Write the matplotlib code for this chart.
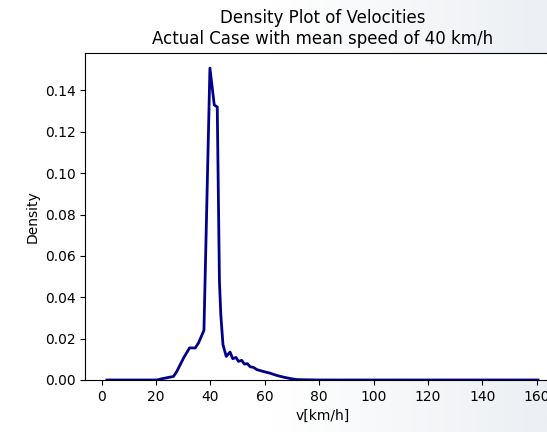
import numpy as np
import matplotlib
matplotlib.use("Agg")
import matplotlib.pyplot as plt
from matplotlib.colors import LinearSegmentedColormap

# velocity [km/h] and density
speed = [1.9, 20.3, 22.1, 26.4, 27.6, 30.1, 32.3, 34.4, 35.6, 37.6,
         39.8, 41.4, 42.5, 43.3, 43.8, 44.6, 45.8, 47.2, 48.2, 49.4,
         50.3, 51.5, 52.5, 53.6, 54.6, 55.8, 57.1, 59.5, 61.9, 64.4,
         66.8, 69.3, 71.8, 75.0, 80.0, 100.0, 130.0, 160.5]
density = [0.0, 0.0, 0.0006, 0.0017, 0.0041, 0.0106, 0.0155, 0.0155, 0.0179, 0.0240,
           0.1508, 0.1330, 0.1320, 0.0479, 0.0317, 0.0171, 0.0114, 0.0135, 0.0103, 0.0109,
           0.0090, 0.0095, 0.0077, 0.0079, 0.0064, 0.0061, 0.0050, 0.0041, 0.0033, 0.0022,
           0.0014, 0.0007, 0.0002, 0.0001, 0.0, 0.0, 0.0, 0.0]

title = "Density Plot of Velocities\nActual Case with mean speed of 40 km/h"

fig = plt.figure(figsize=(5.47, 4.32), dpi=100)

# screenshot-like soft background
bg = fig.add_axes([0, 0, 1, 1], zorder=-10)
grad = np.linspace(0, 1, 256).reshape(1, -1)
cmap = LinearSegmentedColormap.from_list("bg", ["#ffffff", "#ffffff", "#eceff3"])
bg.imshow(grad, aspect="auto", cmap=cmap, extent=[0, 1, 0, 1])
bg.axis("off")

ax = fig.add_axes([0.156, 0.1204, 0.867, 0.758])
ax.plot(speed, density, color="darkblue", linewidth=2)
ax.set_ylim(0, None)
ax.set_xticks(np.arange(0, 161, 20))
ax.set_yticks(np.arange(0, 0.141, 0.02))
ax.yaxis.set_major_formatter(matplotlib.ticker.FormatStrFormatter("%.2f"))
ax.set_title(title, fontsize=12)
ax.set_xlabel("v[km/h]")
ax.set_ylabel("Density")

fig.savefig("out.png", dpi=100)
